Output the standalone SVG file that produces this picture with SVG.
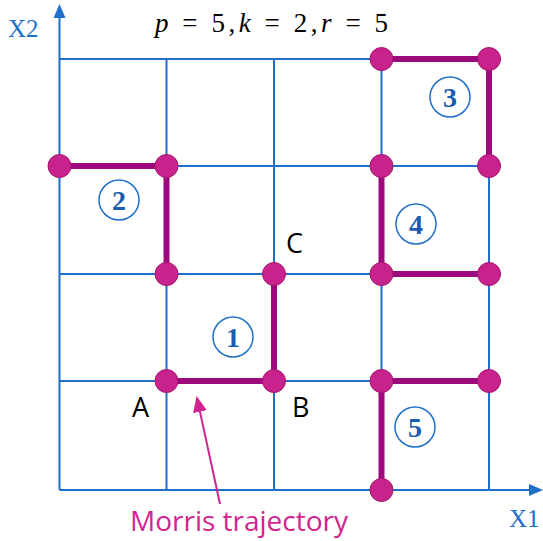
<svg xmlns="http://www.w3.org/2000/svg" width="543" height="541" viewBox="0 0 543 541">
<style>
.grid{stroke:#1f6fcb;stroke-width:2;fill:none}
.traj{stroke:#9c0a7e;stroke-width:6;fill:none;stroke-linejoin:miter}
.dot{fill:#c8228c;stroke:#a3176f;stroke-width:1}
.num circle{fill:none;stroke:#1f6fcb;stroke-width:1.5}
.num text{font-family:"Liberation Serif","DejaVu Serif",serif;font-weight:bold;font-size:28px;fill:#1a5cb0;text-anchor:middle}
.lbl{font-family:"Open Sans","Liberation Sans",sans-serif;font-size:27px;fill:#000}
.ax{font-family:"Liberation Serif",serif;font-size:25px;fill:#1f6fcb}
</style>
<defs>
<marker id="pk" markerWidth="16" markerHeight="14" refX="14" refY="7" orient="auto" markerUnits="userSpaceOnUse"><path d="M0,0 L16,7 L0,14 z" fill="#d0258f"/></marker>
</defs>
<g id="grid">
<path class="grid" d="M59.5,59 H489 M59.5,166 H489 M59.5,274 H489 M59.5,381 H489 M166.5,59 V490 M274,59 V490 M381.5,59 V490 M489,59 V490"/>
</g>
<g id="axes">
<line x1="59.5" y1="490" x2="59.5" y2="16" stroke="#1f6fcb" stroke-width="2"/>
<path d="M59.5,4 L53.5,18 L65.5,18 z" fill="#1f6fcb"/>
<line x1="59.5" y1="490" x2="530" y2="490" stroke="#1f6fcb" stroke-width="2"/>
<path d="M543,490 L529,484 L529,496 z" fill="#1f6fcb"/>
<text class="ax" x="8" y="37">X2</text>
<text class="ax" x="509" y="527">X1</text>
</g>
<g id="connectors">
<path class="traj" d="M166.5,381 H274 V274"/>
<path class="traj" d="M59.5,166 H166.5 V274"/>
<path class="traj" d="M381.5,59 H489 V166"/>
<path class="traj" d="M381.5,166 V274 H489"/>
<path class="traj" d="M489,381 H381.5 V490"/>
<line x1="220" y1="504" x2="197" y2="398" stroke="#d0258f" stroke-width="2" marker-end="url(#pk)"/>
</g>
<g id="points">
<circle class="dot" cx="166.5" cy="381" r="11.5"/>
<circle class="dot" cx="274" cy="381" r="11.5"/>
<circle class="dot" cx="274" cy="274" r="11.5"/>
<circle class="dot" cx="59.5" cy="166" r="11.5"/>
<circle class="dot" cx="166.5" cy="166" r="11.5"/>
<circle class="dot" cx="166.5" cy="274" r="11.5"/>
<circle class="dot" cx="381.5" cy="59" r="11.5"/>
<circle class="dot" cx="489" cy="59" r="11.5"/>
<circle class="dot" cx="489" cy="166" r="11.5"/>
<circle class="dot" cx="381.5" cy="166" r="11.5"/>
<circle class="dot" cx="381.5" cy="274" r="11.5"/>
<circle class="dot" cx="489" cy="274" r="11.5"/>
<circle class="dot" cx="489" cy="381" r="11.5"/>
<circle class="dot" cx="381.5" cy="381" r="11.5"/>
<circle class="dot" cx="381.5" cy="490" r="11.5"/>
</g>
<g id="n1" class="num"><circle cx="233" cy="337" r="20"/><text x="233" y="347">1</text></g>
<g id="n2" class="num"><circle cx="119" cy="200" r="20"/><text x="119" y="210">2</text></g>
<g id="n3" class="num"><circle cx="450" cy="97" r="20"/><text x="450" y="107">3</text></g>
<g id="n4" class="num"><circle cx="416" cy="224" r="20"/><text x="416" y="234">4</text></g>
<g id="n5" class="num"><circle cx="415" cy="427" r="20"/><text x="415" y="437">5</text></g>
<g id="labels">
<text class="lbl" x="132" y="417">A</text>
<text class="lbl" x="292" y="417">B</text>
<text class="lbl" x="286" y="253">C</text>
<text x="130" y="531" font-family="Open Sans,Liberation Sans,sans-serif" font-size="27" fill="#d0258f" textLength="218" lengthAdjust="spacingAndGlyphs">Morris trajectory</text>
<text x="155" y="32" font-family="Liberation Serif,DejaVu Serif,serif" font-size="27" fill="#000" textLength="233" lengthAdjust="spacing" xml:space="preserve"><tspan font-style="italic">p</tspan> = 5,<tspan font-style="italic">k</tspan> = 2,<tspan font-style="italic">r</tspan> = 5</text>
</g>
</svg>
